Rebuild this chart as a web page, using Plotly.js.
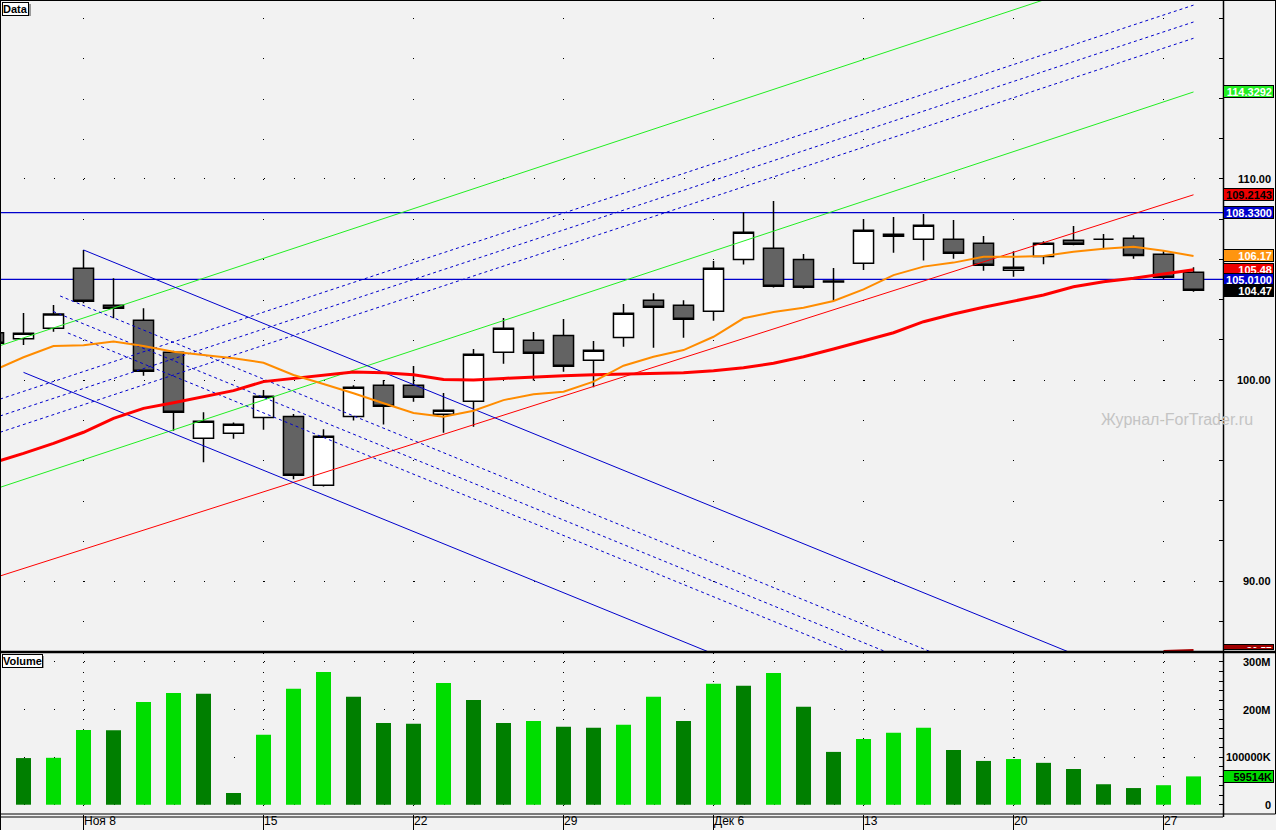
<!DOCTYPE html>
<html><head><meta charset="utf-8">
<script src="https://cdn.plot.ly/plotly-3.0.1.min.js"></script>
<style>html,body{margin:0;padding:0;background:#f2f2f2;overflow:hidden}#chart{width:1276px;height:830px}</style>
</head><body><div id="chart"></div>
<script>
// ---- data ----
const candleIdx = [-1,0,1,2,3,4,5,6,7,8,9,10,11,12,13,14,15,16,17,18,19,20,21,22,23,24,25,26,27,28,29,30,31,32,33,34,35,36,37,38,39];
const openP  = [102.35,102.05,102.57,105.56,103.72,102.97,101.38,97.10,97.35,98.14,98.19,94.76,98.19,99.74,99.74,98.29,98.94,101.38,101.98,102.22,100.98,102.12,103.97,103.72,103.42,106.00,106.55,106.00,104.93,105.81,107.15,107.00,107.00,106.80,105.46,106.15,106.95,107.00,107.05,106.25,105.36];
const highP  = [102.50,103.33,103.73,106.47,105.06,103.57,101.45,98.39,97.88,99.50,98.31,97.55,99.74,100.00,100.70,99.35,101.54,103.08,102.39,103.03,101.94,103.78,104.31,103.97,105.92,108.34,108.91,106.27,105.57,108.01,108.11,108.26,107.96,107.16,106.40,106.90,107.66,107.26,107.20,106.45,105.61];
const lowP   = [101.70,101.74,102.40,103.82,103.07,100.21,97.48,95.91,97.08,97.53,95.06,94.70,97.98,97.78,98.92,97.38,97.68,100.81,99.97,100.41,99.64,101.66,101.61,102.10,102.95,105.74,104.60,104.54,103.93,105.47,106.33,105.94,106.03,105.44,105.14,105.76,106.70,106.50,106.03,105.01,104.39];
const closeP = [101.83,102.32,103.28,103.92,103.57,100.43,98.39,97.95,97.80,99.19,95.26,97.20,99.64,98.69,99.14,98.49,101.28,102.57,101.33,100.68,101.48,103.32,103.62,103.02,105.56,107.35,104.66,104.61,104.88,107.45,107.25,107.70,106.30,105.71,105.61,106.80,106.75,107.00,106.20,105.11,104.47];
const maOrange = [100.47,101.13,101.69,101.73,101.91,101.69,101.41,101.23,101.08,100.86,100.25,99.80,99.34,98.84,98.36,98.17,98.47,99.00,99.29,99.42,99.92,100.71,101.16,101.49,102.15,103.07,103.38,103.59,103.93,104.51,105.22,105.64,105.84,106.13,106.13,106.17,106.38,106.53,106.63,106.43,106.17];
const maRed    = [95.89,96.35,96.85,97.40,98.09,98.59,98.87,99.17,99.47,99.92,100.08,100.25,100.40,100.36,100.26,100.03,100.00,100.08,100.16,100.21,100.26,100.30,100.31,100.36,100.46,100.61,100.83,101.16,101.54,101.94,102.35,102.90,103.28,103.62,103.93,104.23,104.64,104.89,105.06,105.26,105.48];
const volIdx = [0,1,2,3,4,5,6,7,8,9,10,11,12,13,14,15,16,17,18,19,20,21,22,23,24,25,26,27,28,29,30,31,32,33,34,35,36,37,38,39];
const volumeM = [98,98.6,157,156.4,216,235,233,24.6,147,244,279,227,172,170,256,220,172,176,164,162,168,227,176,254,250,277,206,111,138,151,162,115,92,96,88,75,43,35,41,59.514];
const weekTickIdx  = [2,8,13,18,23,28,33,38];
const weekTickText = ['Ноя 8','15','22','29','Дек 6','13','20','27'];
const priceTickVals = [90,100,110];
const volTickVals = [0,100,200,300];
const volTickText = ['0','100000K','200M','300M'];
const hLevels = [108.33,105.01];
// trend lines: [x0, y0, x1, y1]
const greenLines = [[-0.78,94.66,39,114.3292],[-0.78,101.71,39,121.38]];
const redLines = [[-0.78,90.25,39,109.2143]];
const blueSolidLines = [[2,106.47,35.12,86.3],[0,100.38,23.12,86.3]];
const blueDashLines = [[-0.78,99.05,39,118.65],[-0.78,98.21,39,117.81],[-0.78,97.40,39,117.00],
                       [1.48,102.34,27.78,86.3],[0.99,103.41,29.04,86.3],[1.22,104.18,30.53,86.3]];
const darkRedLines = [[38,86.52,39,86.57]];
// right-side value labels: [value, text, bg, fg, axis]
const valueLabels = [
  [114.3292,'114.3292','#22ee22','#ffffff','y'],
  [109.2143,'109.2143','#ee0000','#000000','y'],
  [108.33,'108.3300','#0000cc','#ffffff','y'],
  [106.17,'106.17','#ff9510','#ffffff','y'],
  [105.48,'105.48','#ee0000','#ffffff','y'],
  [105.01,'105.0100','#0000cc','#ffffff','y'],
  [104.47,'104.47','#000000','#ffffff','y'],
  [59.514,'59514K','#00dd00','#000000','y2']
];
const lowLabel = [86.57,'86.57','#a00000','#ffffff'];

// ---- geometry helpers (pixel layout of the panels) ----
const W = 1276, PW = 1223, PH = 814;
const px = v => v / PW;
const py = v => (PH - v) / PH;

const traces = [];
const addLines = (arr, color, width, dash) => arr.forEach(l => traces.push({
  type:'scatter', mode:'lines', x:[l[0],l[2]], y:[l[1],l[3]], xaxis:'x', yaxis:'y',
  line:{color:color, width:width, dash:dash||'solid'}, hoverinfo:'skip', showlegend:false
}));
addLines(greenLines, '#22ee22', 1);
addLines(redLines, '#ff0000', 1);
addLines(blueSolidLines, '#0000cc', 1);
addLines(blueDashLines, '#0000cc', 1, '3px,3px');
addLines(darkRedLines, '#aa0000', 2);

traces.push({type:'scatter', mode:'lines', x:candleIdx, y:maRed, xaxis:'x', yaxis:'y',
  line:{color:'#ff0000', width:3}, hoverinfo:'skip', showlegend:false});
traces.push({type:'scatter', mode:'lines', x:candleIdx, y:maOrange, xaxis:'x', yaxis:'y',
  line:{color:'#ff8c00', width:2}, hoverinfo:'skip', showlegend:false});

traces.push({type:'candlestick', x:candleIdx, open:openP, high:highP, low:lowP, close:closeP,
  xaxis:'x', yaxis:'y', whiskerwidth:0, hoverinfo:'skip', showlegend:false,
  increasing:{line:{color:'#000000', width:1.5}, fillcolor:'#ffffff'},
  decreasing:{line:{color:'#000000', width:1.5}, fillcolor:'#636363'}});

const volColors = volumeM.map((v,i) => (i > 0 && v > volumeM[i-1]) ? '#00dd00' : '#007f00');
traces.push({type:'bar', x:volIdx, y:volumeM, xaxis:'x2', yaxis:'y2',
  marker:{color:volColors, line:{width:0}}, hoverinfo:'skip', showlegend:false});

const annotations = [];
const FONT = 'Liberation Sans, Arial, sans-serif';
priceTickVals.forEach(v => annotations.push({xref:'paper', yref:'y', x:px(1273), y:v, xanchor:'right', yanchor:'middle',
  text:'<b>'+v.toFixed(2)+'</b>', showarrow:false, font:{family:FONT, size:11, color:'#000'}}));
volTickVals.forEach((v,i) => annotations.push({xref:'paper', yref:'y2', x:px(1273), y:v, xanchor:'right', yanchor:'middle',
  text:'<b>'+volTickText[i]+'</b>', showarrow:false, font:{family:FONT, size:11, color:'#000'}}));
valueLabels.forEach(l => annotations.push({xref:'paper', yref:l[4], x:px(1274), y:l[0], xanchor:'right', yanchor:'middle',
  text:'<b>'+l[1]+'</b>', showarrow:false, align:'right', width:47, height:9, borderpad:1, borderwidth:1,
  bordercolor:'#000', bgcolor:l[2], font:{family:FONT, size:11, color:l[3]}}));
annotations.push({xref:'paper', yref:'y', x:px(1274), y:lowLabel[0], xanchor:'right', yanchor:'bottom',
  text:'<b>'+lowLabel[1]+'</b>', showarrow:false, align:'right', valign:'top', width:47, height:2, borderpad:1, borderwidth:1,
  bordercolor:'#000', bgcolor:lowLabel[2], font:{family:FONT, size:10, color:lowLabel[3]}});
annotations.push({xref:'paper', yref:'paper', x:px(2), y:py(2), xanchor:'left', yanchor:'top', text:'<b>Data</b>',
  showarrow:false, bgcolor:'#ffffff', bordercolor:'#000', borderwidth:1, borderpad:0, font:{family:FONT, size:11, color:'#000'}});
annotations.push({xref:'paper', yref:'paper', x:px(2), y:py(654), xanchor:'left', yanchor:'top', text:'<b>Volume</b>',
  showarrow:false, bgcolor:'#ffffff', bordercolor:'#000', borderwidth:1, borderpad:0, font:{family:FONT, size:11, color:'#000'}});
annotations.push({xref:'paper', yref:'paper', x:px(1099), y:py(420), xanchor:'left', yanchor:'middle', text:'Журнал-ForTrader.ru',
  showarrow:false, font:{family:FONT, size:16, color:'#c4c4c4'}});

const L = (x0,y0,x1,y1,w) => ({type:'line', xref:'paper', yref:'paper', x0:px(x0), y0:py(y0), x1:px(x1), y1:py(y1),
  line:{color:'#000', width:w||1}, layer:'above'});
const shapes = [];
hLevels.forEach(v => shapes.push({type:'line', xref:'paper', yref:'y', x0:0, x1:1, y0:v, y1:v,
  line:{color:'#0000cc', width:1.2}, layer:'below'}));
shapes.push({type:'rect', xref:'paper', yref:'paper', x0:px(4), x1:px(31), y0:py(4), y1:py(16), fillcolor:'#9a9a9a', line:{width:0}, layer:'above'});
shapes.push({type:'rect', xref:'paper', yref:'paper', x0:px(4), x1:px(44), y0:py(656), y1:py(668), fillcolor:'#9a9a9a', line:{width:0}, layer:'above'});
shapes.push(L(0,0.5,W,0.5,1));
shapes.push(L(0.5,0,0.5,830,1));
shapes.push(L(0,652,W,652,2.5));
shapes.push(L(0,814,1275.5,814,1));
shapes.push(L(0,817,PW,817,1));
shapes.push(L(1275.5,0,1275.5,814,1));
shapes.push(L(PW+0.5,0,PW+0.5,817,1.5));

const layout = {
  width:W, height:830, margin:{l:0, r:W-PW, t:0, b:830-PH, pad:0},
  paper_bgcolor:'#f2f2f2', plot_bgcolor:'#f2f2f2', showlegend:false,
  bargap:0.5, boxgap:0.33, boxgroupgap:0,
  xaxis:{domain:[0,1], anchor:'y', range:[-0.7833,39.983], tickmode:'array', tickvals:weekTickIdx,
    showticklabels:false, ticks:'', showgrid:true, gridcolor:'#000', gridwidth:1, griddash:'0px,18.2px,1px,21px',
    zeroline:false, showline:false, rangeslider:{visible:false}, fixedrange:true},
  xaxis2:{domain:[0,1], anchor:'y2', matches:'x', range:[-0.7833,39.983], tickmode:'array', tickvals:weekTickIdx, ticktext:weekTickText,
    ticks:'outside', ticklen:16, tickwidth:1, tickcolor:'#000', ticklabelposition:'outside right', ticklabelstandoff:-4,
    tickfont:{family:FONT, size:12, color:'#000'}, showgrid:true, gridcolor:'#000', gridwidth:1, griddash:'0px,0.5px,1px,8px',
    zeroline:false, showline:false, fixedrange:true},
  yaxis:{domain:[(PH-652)/PH,1], anchor:'x', side:'right', range:[86.468,118.905], tick0:0, dtick:10,
    ticks:'inside', ticklen:4, tickcolor:'#000', showticklabels:false, showgrid:true, gridcolor:'#000', gridwidth:1,
    griddash:'0px,23.5px,1px,5.5px', zeroline:false, showline:false, fixedrange:true,
    minor:{dtick:2, tick0:0, ticks:'inside', ticklen:4, tickcolor:'#000', showgrid:false}},
  yaxis2:{domain:[0,(PH-652)/PH], anchor:'x2', side:'right', range:[-19.55,321.0], tick0:0, dtick:100,
    ticks:'inside', ticklen:4, tickcolor:'#000', showticklabels:false, showgrid:true, gridcolor:'#000', gridwidth:1,
    griddash:'0px,23.5px,1px,5.5px', zeroline:false, showline:false, fixedrange:true,
    minor:{dtick:20, tick0:0, ticks:'inside', ticklen:4, tickcolor:'#000', showgrid:false}},
  annotations:annotations, shapes:shapes
};
Plotly.newPlot('chart', traces, layout, {staticPlot:true, displayModeBar:false});
</script></body></html>
